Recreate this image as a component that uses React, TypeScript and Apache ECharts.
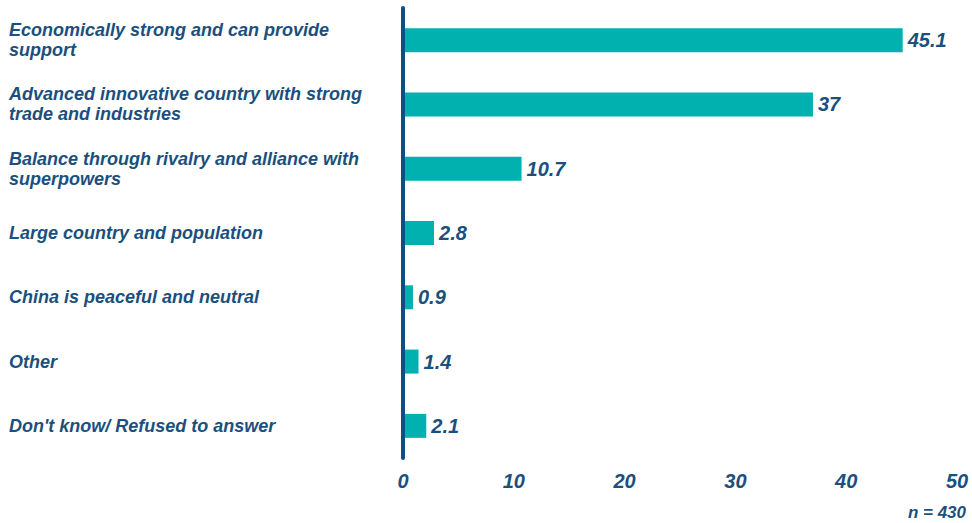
import React, { useEffect, useRef } from "react";
import * as echarts from "echarts";

const categories = [
  "Economically strong and can provide\nsupport",
  "Advanced innovative country with strong\ntrade and industries",
  "Balance through rivalry and alliance with\nsuperpowers",
  "Large country and population",
  "China is peaceful and neutral",
  "Other",
  "Don't know/ Refused to answer",
];
const values = [45.1, 37, 10.7, 2.8, 0.9, 1.4, 2.1];
const sampleNote = "n = 430";

const DARK = "#1a4f7e";
const AXIS = "#0b4f85";
const TEAL = "#00b1b0";
const FONT = "'Liberation Sans', Arial, sans-serif";
const LEFT = 403;

export default function App() {
  const ref = useRef<HTMLDivElement>(null);
  useEffect(() => {
    if (!ref.current) return;
    const chart = echarts.init(ref.current, null, { renderer: "svg" });
    chart.setOption({
      animation: false,
      grid: { left: LEFT, right: 15, top: 8, bottom: 65, containLabel: false },
      xAxis: {
        type: "value",
        min: 0,
        max: 50,
        interval: 10,
        axisLine: { show: false },
        axisTick: { show: false },
        splitLine: { show: false },
        axisLabel: {
          margin: 13,
          color: DARK,
          fontFamily: FONT,
          fontSize: 20,
          fontWeight: "bold",
          fontStyle: "italic",
        },
      },
      yAxis: {
        type: "category",
        data: categories,
        inverse: true,
        z: 10,
        axisLine: { show: true, lineStyle: { color: AXIS, width: 4 } },
        axisTick: { show: false },
        axisLabel: {
          align: "left",
          margin: LEFT - 9,
          color: DARK,
          fontFamily: FONT,
          fontSize: 18,
          lineHeight: 20,
          fontWeight: "bold",
          fontStyle: "italic",
        },
      },
      series: [
        {
          type: "bar",
          data: values,
          barWidth: 24,
          itemStyle: { color: TEAL },
          label: {
            show: true,
            position: "right",
            distance: 5,
            color: DARK,
            fontFamily: FONT,
            fontSize: 20,
            fontWeight: "bold",
            fontStyle: "italic",
          },
        },
      ],
      graphic: [
        {
          type: "text",
          right: 6,
          top: 504,
          style: {
            text: sampleNote,
            fill: DARK,
            font: `italic bold 17px ${FONT}`,
          },
        },
      ],
    });
    return () => chart.dispose();
  }, []);
  return <div ref={ref} style={{ width: 972, height: 523, position: "absolute", left: 0, top: 0 }} />;
}
